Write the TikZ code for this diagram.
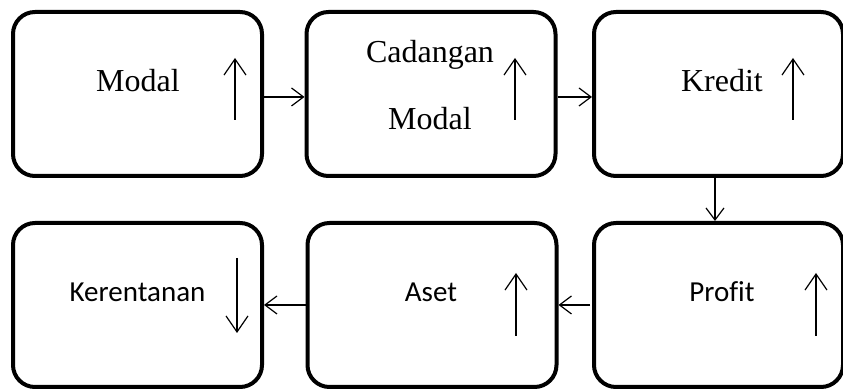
\documentclass[tikz,border=0pt]{standalone}
\usepackage{fontspec}
\setmainfont{Liberation Serif}
\newfontfamily\calibri[Ligatures=NoCommon]{Carlito}
\usetikzlibrary{arrows.meta}

\begin{document}
\begin{tikzpicture}[x=0.5pt, y=-0.5pt,
box/.style={rectangle, rounded corners=11pt, draw=black, line width=2pt, minimum width=124.5pt, minimum height=82pt, inner sep=0pt},
serif/.style={font=\fontsize{16}{19}\selectfont, anchor=base, inner sep=0pt},
sans/.style={font=\calibri\fontsize{14.5}{17}\selectfont, anchor=base, inner sep=0pt},
link/.style={line width=0.6pt, -{Straight Barb[length=6pt, width=9pt]}},
trend/.style={line width=0.6pt, -{Straight Barb[length=8pt, width=11pt]}},
]
\useasboundingbox (0,0) rectangle (843,389);

\node[box] (modal) at (137.5,94) {};
\node[box] (cadangan) at (431,94) {};
\node[box] (kredit) at (718.5,94) {};
\node[box] (kerentanan) at (137.5,305) {};
\node[box] (aset) at (432,305) {};
\node[box] (profit) at (718.5,305) {};

\node[serif] (tmodal) at (138,92) {Modal};
\node[serif] (tcadangan) at (430,63) {Cadangan};
\node[serif] (tcmodal) at (430,130) {Modal};
\node[serif] (tkredit) at (722,92) {Kredit};
\node[sans] (tkerentanan) at (137.5,302) {Kerentanan};
\node[sans] (taset) at (431,302) {Aset};
\node[sans] (tprofit) at (722,302) {Prof{}it};

\draw[link] ([yshift=-1.5pt]modal.east) -- ([yshift=-1.5pt]cadangan.west);
\draw[link] ([yshift=-1.5pt]cadangan.east) -- ([yshift=-1.5pt]kredit.west);
\draw[link] ([xshift=-1.75pt]kredit.south) -- ([xshift=-1.75pt]profit.north);
\draw[link] ([xshift=-1pt]profit.west) -- (aset.east);
\draw[link] (aset.west) -- (kerentanan.east);

% naik / turun
\draw[trend] (235,120) -- (235,58);
\draw[trend] (515,120) -- (515,58);
\draw[trend] (793,120) -- (793,58);
\draw[trend] (237,258) -- (237,333);
\draw[trend] (516,336) -- (516,273);
\draw[trend] (816,336) -- (816,273);
\end{tikzpicture}
\end{document}
